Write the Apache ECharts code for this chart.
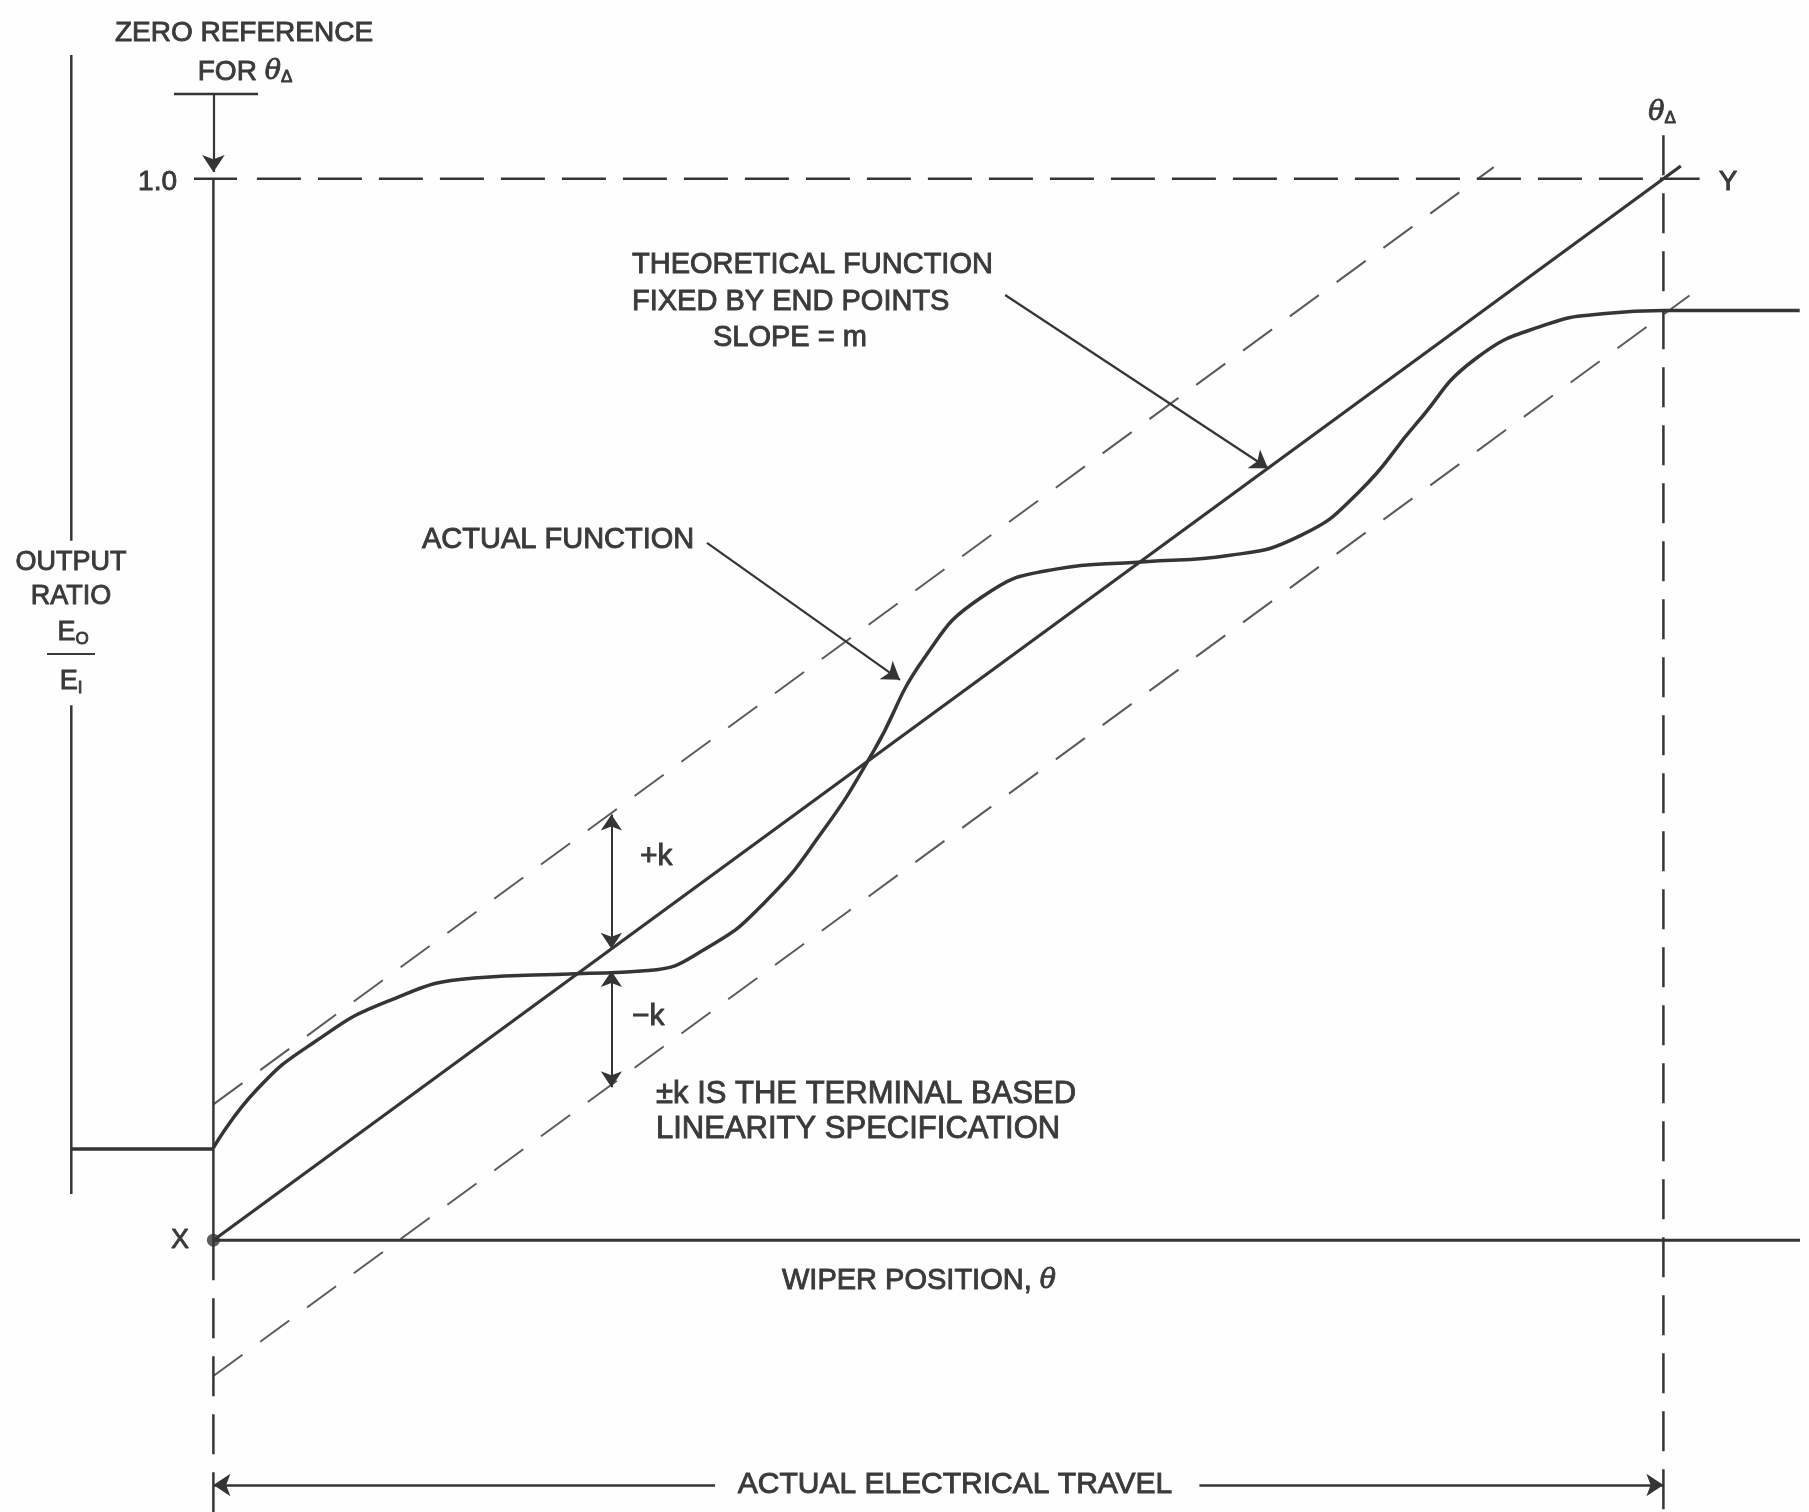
<!DOCTYPE html>
<html>
<head>
<meta charset="utf-8">
<script src="https://cdn.jsdelivr.net/npm/echarts@6/dist/echarts.min.js"></script>
<style>
html,body{margin:0;padding:0;background:#fefefe;}
#chart{width:1809px;height:1512px;}
</style>
</head>
<body>
<div id="chart"></div>
<script>
// ---------- data (x = wiper position as fraction of travel, y = output ratio Eo/Ei) ----------
const stepLeftX = [-0.098, 0];
const stepLeftY = [0.086, 0.086];
const actualX = [0, 0.03, 0.07, 0.12, 0.18, 0.25, 0.30, 0.34, 0.38, 0.42, 0.455, 0.49, 0.53, 0.58, 0.64, 0.70, 0.75, 0.79, 0.83, 0.87, 0.92, 0.96, 1.0];
const actualY = [0.087, 0.142, 0.187, 0.225, 0.247, 0.251, 0.254, 0.275, 0.318, 0.385, 0.46, 0.548, 0.606, 0.632, 0.639, 0.645, 0.664, 0.705, 0.77, 0.83, 0.863, 0.873, 0.876];
const stepRightX = [1.0, 1.094];
const stepRightY = [0.876, 0.876];
const theoreticalX = [0, 1.012];
const theoreticalY = [0, 1.012];
const kLimit = 0.128;                 // +/- k band
const upperX = [0, 0.883];
const lowerX = [0, 1.018];
const yTickValues = [1.0];
const yTickLabels = ['1.0'];
const kMeasureX = 0.2745;             // where the +/-k dimension is drawn
const kMeasureY = [0.401, 0.2745, 0.2536, 0.144];

// ---------- coordinate frame ----------
const X0 = 213.4, XS = 1450, Y0 = 1240.2, YS = 1061.4, W = 1809, H = 1512;
const xMin = -X0 / XS, xMax = (W - X0) / XS;
const yMin = -(H - Y0) / YS, yMax = Y0 / YS;

const INK = '#353535';
const TXT = '#3a3a3a';
const FONT = "'Liberation Sans', Arial, sans-serif";

function seg(points, style, extra) {
  return Object.assign({
    type: 'line', data: points, symbol: 'none', silent: true,
    lineStyle: style, animation: false, z: 2
  }, extra || {});
}
function arrowLines(list, symbols, size, width) {
  return {
    type: 'lines', coordinateSystem: 'cartesian2d', silent: true, animation: false,
    symbol: symbols, symbolSize: size,
    lineStyle: { color: INK, width: width, opacity: 1 },
    data: list.map(c => ({ coords: c })), z: 3
  };
}
const pairs = (xs, ys) => xs.map((x, i) => [x, ys[i]]);

const actualData = pairs(actualX, actualY);
const theoData = pairs(theoreticalX, theoreticalY);
const upperData = upperX.map(x => [x, x + kLimit]);
const lowerData = lowerX.map(x => [x, x - kLimit]);

const solid = w => ({ color: INK, width: w });
const dashed = (w, d, c) => ({ color: c || INK, width: w, type: d });

const series = [
  // actual function (with flat output before and after travel)
  seg(pairs(stepLeftX, stepLeftY), solid(3.5), { z: 4 }),
  seg(actualData, solid(3.5), { smooth: 0.5, z: 4 }),
  seg(pairs(stepRightX, stepRightY), solid(3.5), { z: 4 }),
  // theoretical function
  seg(theoData, solid(3.2), { z: 4 }),
  // +/- k band
  seg(upperData, dashed(2, [36, 22], '#5a5a5a')),
  seg(lowerData, dashed(2, [36, 22], '#5a5a5a')),
  // 1.0 reference dashed line
  seg([[0.03, yTickValues[0]], [1.025, yTickValues[0]]], dashed(2.5, [44, 17])),
  // 1.0 tick
  seg([[-0.0134, yTickValues[0]], [0.0163, yTickValues[0]]], solid(2.5)),
  // zero reference vertical (solid above axis, dashed below)
  seg([[0, yTickValues[0]], [0, 0]], solid(2.5)),
  seg([[0, 0], [0, yMin]], dashed(2.5, [40, 18])),
  // theta-delta vertical dashed
  seg([[1, 1.041], [1, yMin]], dashed(2.5, [40, 18])),
  // wiper position axis
  seg([[0, 0], [1.0942, 0]], solid(3)),
  // output ratio axis (broken around label)
  seg([[-0.098, 1.1166], [-0.098, 0.659]], solid(2.5)),
  seg([[-0.098, 0.504], [-0.098, 0.0435]], solid(2.5)),
  // zero reference bar
  seg([[-0.0272, 1.0798], [0.0308, 1.0798]], solid(2.5)),
  // X end point
  {
    type: 'scatter', data: [[theoreticalX[0], theoreticalY[0]]], symbolSize: 13,
    itemStyle: { color: INK }, silent: true, animation: false, z: 5
  },
  // zero-reference arrow, leader arrows
  arrowLines([
    [[0, 1.0798], [0, 1.0064]],
    [[0.546, 0.8905], [0.7273, 0.7273]],
    [[0.3404, 0.657], [0.4735, 0.528]]
  ], ['none', 'arrow'], 17, 2.2),
  // +/- k dimension arrows
  arrowLines([
    [[kMeasureX, kMeasureY[0]], [kMeasureX, kMeasureY[1]]],
    [[kMeasureX, kMeasureY[2]], [kMeasureX, kMeasureY[3]]]
  ], ['arrow', 'arrow'], 16, 2),
  // actual electrical travel arrows
  arrowLines([
    [[0.346, -0.2306], [0, -0.2306]],
    [[0.680, -0.2306], [1, -0.2306]]
  ], ['none', 'arrow'], 17, 2.5)
];

function txt(x, y, text, opt) {
  opt = opt || {};
  return {
    type: 'text', x: x, y: y, silent: true, z: 10,
    style: Object.assign({
      text: text, fill: TXT, stroke: TXT, lineWidth: 0.9,
      font: (opt.size || 29) + 'px ' + FONT,
      align: opt.align || 'left', verticalAlign: 'middle',
      rich: opt.rich
    }, opt.style || {})
  };
}
const thetaRich = {
  t: { fontStyle: 'italic', fontSize: 27, fontFamily: "'DejaVu Serif', serif", fill: TXT },
  s: { fontSize: 17, fontFamily: FONT, fill: TXT, padding: [10, 0, 0, 0] },
  sub: { fontSize: 17, fontFamily: FONT, fill: TXT, padding: [12, 0, 0, 0] }
};

const graphic = [
  txt(244, 33, 'ZERO REFERENCE', { align: 'center', size: 28 }),
  txt(245, 72, 'FOR {t|θ}{s|Δ}', { align: 'center', size: 28, rich: thetaRich }),
  txt(177, 182, yTickLabels[0], { align: 'right', size: 28 }),
  txt(1662, 113, '{t|θ}{s|Δ}', { align: 'center', size: 28, rich: thetaRich }),
  txt(1728, 182, 'Y', { align: 'center', size: 28 }),
  txt(71, 563, 'OUTPUT', { align: 'center', size: 27 }),
  txt(71, 597, 'RATIO', { align: 'center', size: 27 }),
  txt(73, 633, 'E{sub|O}', { align: 'center', size: 27, rich: thetaRich }),
  { type: 'line', silent: true, shape: { x1: 47, y1: 654, x2: 95, y2: 654 }, style: { stroke: TXT, lineWidth: 2 } },
  txt(71, 682, 'E{sub|I}', { align: 'center', size: 27, rich: thetaRich }),
  txt(632, 265, 'THEORETICAL FUNCTION', { size: 29 }),
  txt(632, 302, 'FIXED BY END POINTS', { size: 29 }),
  txt(713, 338, 'SLOPE = m', { size: 29 }),
  txt(422, 540, 'ACTUAL FUNCTION', { size: 29 }),
  txt(640, 857, '+k', { size: 30 }),
  txt(632, 1017, '−k', { size: 30 }),
  txt(656, 1094, '±k IS THE TERMINAL BASED', { size: 31 }),
  txt(656, 1129, 'LINEARITY SPECIFICATION', { size: 31 }),
  txt(180, 1241, 'X', { align: 'center', size: 27 }),
  txt(919, 1281, 'WIPER POSITION, {t|θ}', { align: 'center', size: 29, rich: thetaRich }),
  txt(955, 1485, 'ACTUAL ELECTRICAL TRAVEL', { align: 'center', size: 30 })
];

const chart = echarts.init(document.getElementById('chart'), null, { renderer: 'canvas' });
chart.setOption({
  backgroundColor: '#fefefe',
  animation: false,
  grid: { left: 0, right: 0, top: 0, bottom: 0, containLabel: false },
  xAxis: { type: 'value', min: xMin, max: xMax, show: false },
  yAxis: { type: 'value', min: yMin, max: yMax, show: false },
  series: series,
  graphic: graphic
});
</script>
</body>
</html>
